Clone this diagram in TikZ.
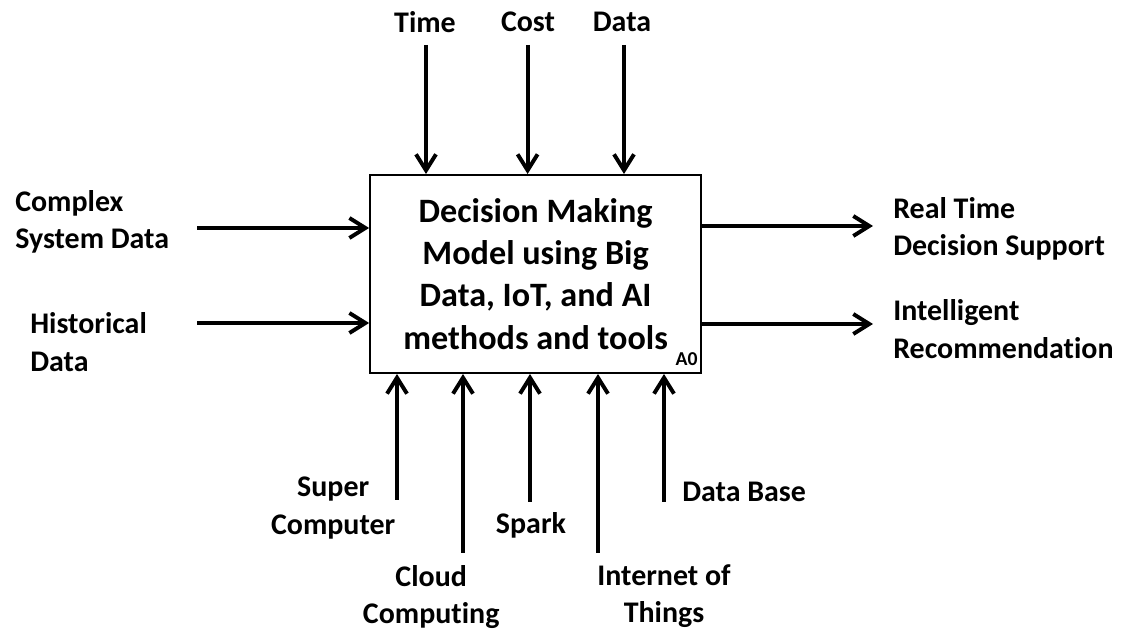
\documentclass[tikz,border=0pt]{standalone}
\usepackage{fontspec}
\setmainfont{Carlito}[Ligatures=NoCommon]
\usetikzlibrary{positioning,calc,arrows.meta}

\begin{document}
\begin{tikzpicture}[->, >={Straight Barb[length=4mm, width=5mm]}, every edge/.append style={line width=2.8pt}, box/.style={draw, line width=1.4pt, minimum width=8.275cm, minimum height=4.95cm, align=center, font=\fontsize{24.3}{30}\selectfont\bfseries}, lbl/.style={align=center, inner sep=0pt, font=\fontsize{21.3}{26.5}\selectfont\bfseries}]

\useasboundingbox (0,0) rectangle (28.275,15.8);

\node[box] (model) at (13.39,8.95) {Decision Making\\Model using Big\\Data, IoT, and AI\\methods and tools};
\node[anchor=south east, inner xsep=3pt, inner ysep=6pt, font=\fontsize{14}{16}\selectfont\bfseries] (a0) at (model.south east) {A0};

%controls
\node[lbl] (time) at (10.625,15.25) {Time};
\node[lbl] (cost) at (13.2,15.25) {Cost};
\node[lbl] (data) at (15.55,15.25) {Data};
\coordinate (timeIn) at (10.65,14.675);
\coordinate (costIn) at (13.19,14.675);
\coordinate (dataIn) at (15.6,14.675);

%inputs
\node[lbl, align=left, anchor=west] (complex) at (0.375,10.26) {Complex\\System Data};
\node[lbl, align=left, anchor=west] (hist) at (0.75,7.25) {Historical\\Data};
\coordinate (complexIn) at (4.925,10.1);
\coordinate (histIn) at (4.925,7.725);

%outputs
\node[lbl, align=left, anchor=west] (rtds) at (22.325,10.075) {Real Time\\Decision Support};
\node[lbl, align=left, anchor=west] (intrec) at (22.325,7.575) {Intelligent\\Recommendation};
\coordinate (rtdsOut) at (21.825,10.15);
\coordinate (intrecOut) at (21.825,7.7);

%mechanisms
\node[lbl] (super) at (8.33,3.1) {Super\\Computer};
\node[lbl] (cloud) at (10.78,0.875) {Cloud\\Computing};
\node[lbl] (spark) at (13.275,2.675) {Spark};
\node[lbl] (iot) at (16.6,0.9) {Internet of\\Things};
\node[lbl, anchor=west] (dbase) at (17.05,3.5) {Data Base};
\coordinate (superIn) at (9.925,3.3);
\coordinate (cloudIn) at (11.575,1.975);
\coordinate (sparkIn) at (13.25,3.25);
\coordinate (iotIn) at (14.95,1.975);
\coordinate (dbaseIn) at (16.6,3.25);

\path
    (timeIn) edge (timeIn |- model.north)
    (costIn) edge (costIn |- model.north)
    (dataIn) edge (dataIn |- model.north)
    (complexIn) edge (complexIn -| model.west)
    (histIn) edge (histIn -| model.west)
    (rtdsOut -| model.east) edge (rtdsOut)
    (intrecOut -| model.east) edge (intrecOut)
    (superIn) edge (superIn |- model.south)
    (cloudIn) edge (cloudIn |- model.south)
    (sparkIn) edge (sparkIn |- model.south)
    (iotIn) edge (iotIn |- model.south)
    (dbaseIn) edge (dbaseIn |- model.south);
\end{tikzpicture}
\end{document}
